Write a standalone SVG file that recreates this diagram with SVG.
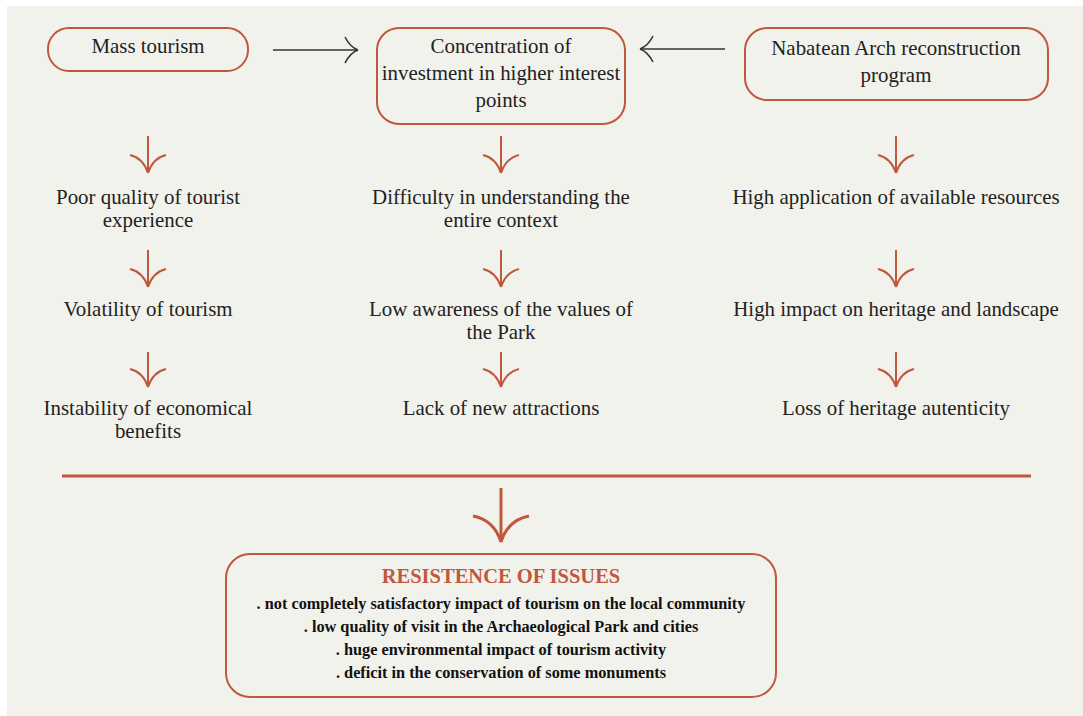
<svg xmlns="http://www.w3.org/2000/svg" width="1083" height="716" viewBox="0 0 1083 716">
  <style>
    .box { fill: none; stroke: #c0583e; stroke-width: 2; }
    .t { font-family: "Liberation Serif", "DejaVu Serif", serif; font-size: 20.9px; fill: #222; text-anchor: middle; }
    .title { font-family: "Liberation Serif", "DejaVu Serif", serif; font-size: 20.5px; font-weight: bold; fill: #c0583e; text-anchor: middle; }
    .b { font-family: "Liberation Serif", "DejaVu Serif", serif; font-size: 16.3px; font-weight: bold; fill: #111; text-anchor: middle; }
    .red { fill: none; stroke: #c0583e; stroke-width: 2; }
    .blk { fill: none; stroke: #333; stroke-width: 1.6; }
  </style>
  <defs>
    <marker id="redHead" markerUnits="userSpaceOnUse" orient="auto" markerWidth="40" markerHeight="40" viewBox="-20 -20 40 40" refX="0" refY="0" overflow="visible">
      <path d="M -18,-18 Q -15,-5 0,0 M -18,18 Q -15,5 0,0" fill="none" stroke="#c0583e" stroke-width="2"/>
    </marker>
    <marker id="bigHead" markerUnits="userSpaceOnUse" orient="auto" markerWidth="60" markerHeight="60" viewBox="-30 -30 60 60" refX="0" refY="0" overflow="visible">
      <path d="M -26,-28 Q -22,-7 0,0 M -26,28 Q -22,7 0,0" fill="none" stroke="#c0583e" stroke-width="3"/>
    </marker>
    <marker id="blkHead" markerUnits="userSpaceOnUse" orient="auto" markerWidth="30" markerHeight="30" viewBox="-15 -15 30 30" refX="0" refY="0" overflow="visible">
      <path d="M -13,-13 Q -8,-3 0,0 M -13,13 Q -8,3 0,0" fill="none" stroke="#333" stroke-width="1.6"/>
    </marker>
  </defs>

  <!-- page background -->
  <rect x="7" y="6" width="1076" height="710" fill="#f2f2ec"/>

  <g id="mass-tourism">
    <rect class="box" x="48" y="28" width="200" height="43" rx="21"/>
    <text class="t" x="148" y="53">Mass tourism</text>
  </g>
  <g id="concentration">
    <rect class="box" x="377" y="28" width="248" height="96" rx="22"/>
    <text class="t" x="501" y="53">Concentration of</text>
    <text class="t" x="501" y="80">investment in higher interest</text>
    <text class="t" x="501" y="107">points</text>
  </g>
  <g id="nabatean">
    <rect class="box" x="745" y="28" width="303" height="72" rx="22"/>
    <text class="t" x="896" y="55">Nabatean Arch reconstruction</text>
    <text class="t" x="896" y="82">program</text>
  </g>

  <g id="poor-quality"><text class="t" x="148" y="204">Poor quality of tourist</text><text class="t" x="148" y="227">experience</text></g>
  <g id="volatility"><text class="t" x="148" y="316">Volatility of tourism</text></g>
  <g id="instability"><text class="t" x="148" y="415">Instability of economical</text><text class="t" x="148" y="438">benefits</text></g>

  <g id="difficulty"><text class="t" x="501" y="204">Difficulty in understanding the</text><text class="t" x="501" y="227">entire context</text></g>
  <g id="low-awareness"><text class="t" x="501" y="316">Low awareness of the values of</text><text class="t" x="501" y="339">the Park</text></g>
  <g id="lack-attractions"><text class="t" x="501" y="415">Lack of new attractions</text></g>

  <g id="high-application"><text class="t" x="896" y="204">High application of available resources</text></g>
  <g id="high-impact"><text class="t" x="896" y="316">High impact on heritage and landscape</text></g>
  <g id="loss-heritage"><text class="t" x="896" y="415">Loss of heritage autenticity</text></g>

  <g id="resistence">
    <rect class="box" x="226" y="554" width="550" height="143" rx="24"/>
    <text class="title" x="501" y="583">RESISTENCE OF ISSUES</text>
    <text class="b" x="501" y="609">. not completely satisfactory impact of tourism on the local community</text>
    <text class="b" x="501" y="632">. low quality of visit in the Archaeological Park and cities</text>
    <text class="b" x="501" y="655">. huge environmental impact of tourism activity</text>
    <text class="b" x="501" y="678">. deficit in the conservation of some monuments</text>
  </g>

  <g id="connectors">
    <line class="blk" x1="273" y1="50" x2="358" y2="50" marker-end="url(#blkHead)"/>
    <line class="blk" x1="725" y1="49" x2="640" y2="49" marker-end="url(#blkHead)"/>

    <line class="red" x1="148" y1="136" x2="148" y2="173" marker-end="url(#redHead)"/>
    <line class="red" x1="148" y1="250" x2="148" y2="287" marker-end="url(#redHead)"/>
    <line class="red" x1="148" y1="352" x2="148" y2="387" marker-end="url(#redHead)"/>

    <line class="red" x1="501" y1="136" x2="501" y2="173" marker-end="url(#redHead)"/>
    <line class="red" x1="501" y1="250" x2="501" y2="287" marker-end="url(#redHead)"/>
    <line class="red" x1="501" y1="352" x2="501" y2="387" marker-end="url(#redHead)"/>

    <line class="red" x1="896" y1="136" x2="896" y2="173" marker-end="url(#redHead)"/>
    <line class="red" x1="896" y1="250" x2="896" y2="287" marker-end="url(#redHead)"/>
    <line class="red" x1="896" y1="352" x2="896" y2="387" marker-end="url(#redHead)"/>

    <line x1="62" y1="476" x2="1031" y2="476" stroke="#c0583e" stroke-width="3"/>
    <line x1="501" y1="488" x2="501" y2="542" stroke="#c0583e" stroke-width="3" marker-end="url(#bigHead)"/>
  </g>
</svg>
